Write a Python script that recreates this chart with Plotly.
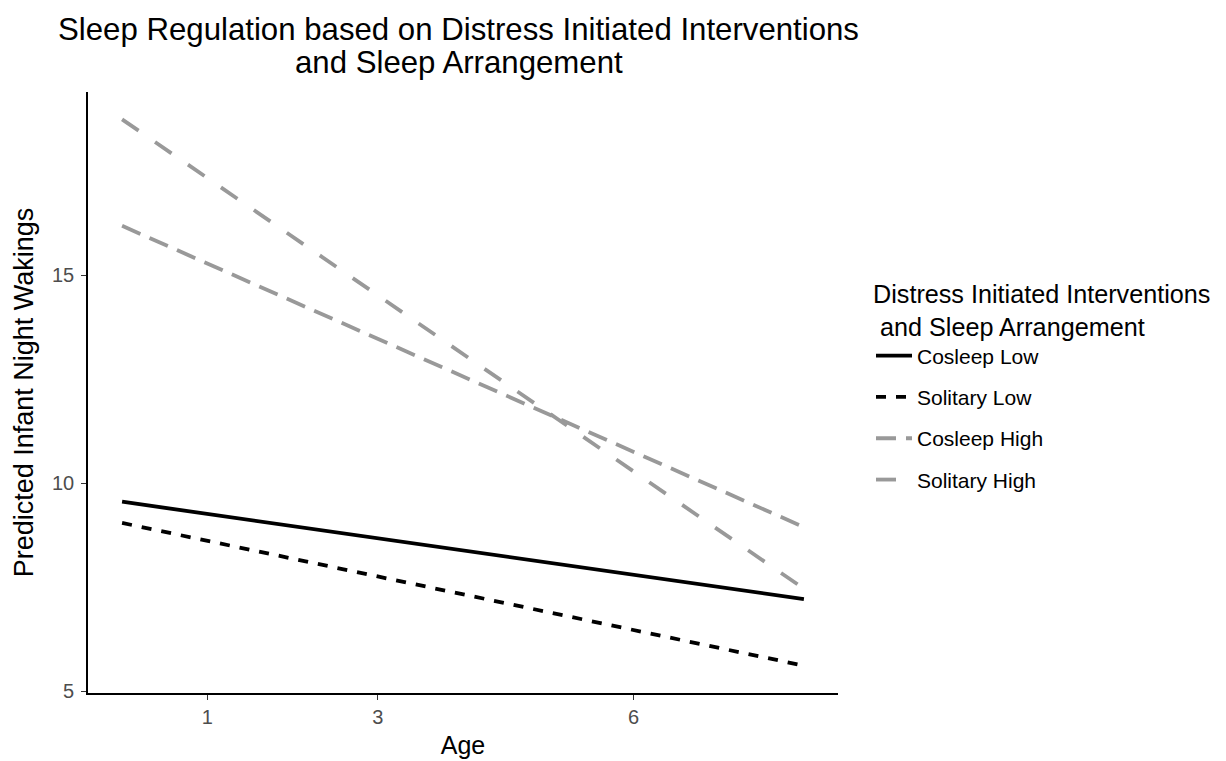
import plotly.graph_objects as go

# Data
age = [0, 8]
series_names = ["Cosleep Low", "Solitary Low", "Cosleep High", "Solitary High"]
cosleep_low = [9.56, 7.22]
solitary_low = [9.05, 5.62]
cosleep_high = [16.19, 8.95]
solitary_high = [18.75, 7.47]
x_ticks = [1, 3, 6]
y_ticks = [5, 10, 15]
title_lines = ["Sleep Regulation based on Distress Initiated Interventions",
               "and Sleep Arrangement"]

values = [cosleep_low, solitary_low, cosleep_high, solitary_high]
colors = ["#000000", "#000000", "#999999", "#999999"]
dashes = ["solid", "10px,10px", "20px,10px", "20px,20px"]

fig = go.Figure()
for i, (name, vals) in enumerate(zip(series_names, values)):
    fig.add_trace(go.Scatter(
        x=age, y=vals, mode="lines", name=name,
        legendgroup=name,
        line=dict(color=colors[i], width=3.8, dash=dashes[i]),
    ))

# ggplot-like 5% expansion
all_y = [v for s in values for v in s]
ymin, ymax = min(all_y), max(all_y)
yexp = (ymax - ymin) * 0.05
xmin, xmax = min(age), max(age)
xexp = (xmax - xmin) * 0.05

FONT = "Liberation Sans, Arial, sans-serif"
W, H = 1240, 753

# title lines as centred annotations above the panel
for text, ypos in zip(title_lines, [1.1048, 1.0483]):
    fig.add_annotation(
        text=text, xref="paper", yref="paper", x=0.494, y=ypos,
        xanchor="center", yanchor="middle", showarrow=False,
        font=dict(size=31.2, color="#000000", family=FONT),
    )

fig.update_layout(
    width=W, height=H,
    paper_bgcolor="white", plot_bgcolor="white",
    margin=dict(l=80, r=W - 830, t=84, b=68, autoexpand=False),
    font=dict(family=FONT, color="#000000"),
    showlegend=True,
    legend=dict(
        title=dict(text="Distress Initiated Interventions<br> and Sleep Arrangement",
                   font=dict(size=25.2, color="#000000")),
        font=dict(size=21, color="#000000"),
        xref="container", yref="container",
        x=863 / W, xanchor="left", y=1 - 262 / H, yanchor="top",
        itemwidth=36, tracegroupgap=11,
        bgcolor="rgba(0,0,0,0)",
    ),
    xaxis=dict(
        range=[xmin - xexp, xmax + xexp],
        tickvals=x_ticks, ticktext=[str(t) for t in x_ticks],
        showgrid=False, zeroline=False, automargin=False,
        showline=True, linecolor="#000000", linewidth=1.6,
        ticks="outside", ticklen=5, tickwidth=1.4, tickcolor="#333333",
        tickfont=dict(size=20, color="#4d4d4d"),
        ticklabelstandoff=0,
        title=dict(text="Age", font=dict(size=25, color="#000000"), standoff=10),
    ),
    yaxis=dict(
        range=[ymin - yexp, ymax + yexp],
        tickvals=y_ticks, ticktext=[str(t) for t in y_ticks],
        showgrid=False, zeroline=False, automargin=False,
        showline=True, linecolor="#000000", linewidth=1.6,
        ticks="outside", ticklen=5, tickwidth=1.4, tickcolor="#333333",
        tickfont=dict(size=20, color="#4d4d4d"),
        ticklabelstandoff=3,
        title=dict(text="Predicted Infant Night Wakings", font=dict(size=27, color="#000000"), standoff=11),
    ),
)

fig.write_html("out.html")
